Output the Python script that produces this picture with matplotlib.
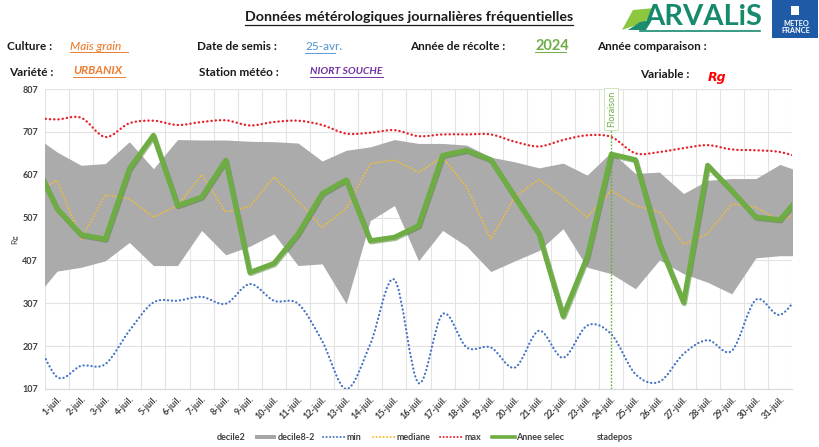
import matplotlib
matplotlib.use('Agg')
import matplotlib.pyplot as plt
from matplotlib.path import Path
from matplotlib.patches import PathPatch, Rectangle, Polygon
from matplotlib.lines import Line2D
import numpy as np

plt.rcParams['font.family'] = ['Lato', 'DejaVu Sans']

# ---- data (first value = 30-juin, last = 1-août, partly visible at the edges) ----
days = [f"{d}-juil." for d in range(1, 32)]
decile2 = [314, 382, 391, 406, 449, 395, 395, 477, 420, 440, 469, 395, 399, 306, 500, 535,
           406, 477, 440, 381, 406, 430, 481, 391, 376, 341, 408, 376, 356, 329, 413, 418, 418]
decile8 = [700, 660, 629, 633, 684, 621, 689, 688, 688, 685, 684, 681, 639, 664, 672, 689,
           680, 680, 676, 648, 637, 623, 634, 606, 660, 610, 613, 563, 594, 598, 598, 631, 611]
vmin = [245, 135, 161, 165, 243, 309, 313, 322, 306, 352, 313, 306, 219, 107, 212, 362,
        121, 282, 204, 204, 157, 243, 180, 255, 235, 142, 124, 189, 221, 196, 315, 280, 345]
mediane = [562, 594, 457, 560, 551, 508, 535, 607, 520, 533, 602, 545, 484, 528, 633, 641,
           613, 648, 578, 457, 555, 596, 555, 508, 570, 535, 520, 445, 469, 539, 531, 500, 524]
vmax = [740, 736, 740, 695, 727, 733, 723, 730, 734, 722, 730, 733, 723, 703, 705, 711,
        697, 701, 701, 701, 684, 673, 688, 699, 695, 657, 660, 669, 676, 666, 664, 660, 644]
selec = [644, 528, 467, 457, 621, 699, 535, 555, 641, 379, 400, 469, 563, 595, 453, 461,
         488, 652, 664, 642, 555, 469, 277, 415, 655, 642, 445, 309, 629, 570, 508, 502, 568]
yticks = [107, 207, 307, 407, 507, 607, 707, 807]
floraison_day = "24-juil."

xs = np.arange(-1, len(days) + 1)

W, H = 820, 447
fig = plt.figure(figsize=(W / 100, H / 100), dpi=100)
ax = fig.add_axes([45 / W, 1 - 389 / H, (792 - 45) / W, (389 - 89) / H])


def smooth_path(x, y):
    verts = [(x[0], y[0])]
    codes = [Path.MOVETO]
    n = len(x)
    for i in range(n - 1):
        p0 = i - 1 if i > 0 else i
        p3 = i + 2 if i + 2 < n else i + 1
        c1 = (x[i] + (x[i + 1] - x[p0]) / 6, y[i] + (y[i + 1] - y[p0]) / 6)
        c2 = (x[i + 1] - (x[p3] - x[i]) / 6, y[i + 1] - (y[p3] - y[i]) / 6)
        verts += [c1, c2, (x[i + 1], y[i + 1])]
        codes += [Path.CURVE4] * 3
    return Path(verts, codes)


dot = (0, (0.1, 1.7))
ax.fill_between(xs, decile2, decile8, color='#ABABAB', lw=0, zorder=2)
ax.add_patch(PathPatch(smooth_path(xs, vmin), fill=False, edgecolor='#4472C4', lw=1.6,
                       linestyle=dot, capstyle='round', zorder=3))
ax.plot(xs, mediane, color='#F5BE2E', lw=1.3, linestyle=dot, dash_capstyle='round', zorder=3)
ax.add_patch(PathPatch(smooth_path(xs, vmax), fill=False, edgecolor='#E8202A', lw=1.7,
                       linestyle=dot, capstyle='round', zorder=3))
ax.plot(xs, selec, color='#4E7F2E', lw=3.8, alpha=0.5, zorder=3.5, solid_joinstyle='round',
        transform=ax.transData + matplotlib.transforms.ScaledTranslation(0.6 / 72, -0.8 / 72,
                                                                         fig.dpi_scale_trans))
ax.plot(xs, selec, color='#6DAD43', lw=3.6, zorder=4, solid_joinstyle='round')

fx = days.index(floraison_day)
ax.axvline(fx, color='#5FB02E', lw=1.0, linestyle=(0, (1.2, 1.2)), zorder=5)
ax.text(fx, 803, 'Floraison', rotation=90, ha='center', va='top', fontsize=6.5,
        color='#70AD47', zorder=6,
        bbox=dict(boxstyle='square,pad=0.3', fc='white', ec='#C5E0B4', lw=0.6))

ax.set_xlim(-0.5, len(days) - 0.5)
ax.set_ylim(107, 807)
ax.set_yticks(yticks)
ax.set_yticklabels([str(v) for v in yticks], fontsize=6.5, fontweight='bold', color='#404040')
ax.set_xticks(range(len(days)))
ax.set_xticklabels(days, rotation=45, ha='right', rotation_mode='anchor', fontsize=6.5,
                   fontweight='bold', color='#404040')
ax.set_xticks(np.arange(-0.5, len(days), 1), minor=True)
ax.tick_params(axis='both', which='both', length=0, pad=4)
ax.tick_params(axis='y', pad=5)
ax.grid(True, axis='y', which='major', color='#E3E3E3', lw=0.8, zorder=0)
ax.grid(True, axis='x', which='minor', color='#E3E3E3', lw=0.8, zorder=0)
ax.set_axisbelow(True)
for s in ['top', 'right', 'left']:
    ax.spines[s].set_visible(False)
ax.spines['bottom'].set_color('#D9D9D9')
ax.set_ylabel('Rg', fontsize=6, color='#404040', labelpad=3)


def fp(x, y):
    return x / W, 1 - y / H


# ---- header ----
fig.text(*fp(409, 17), 'Données métérologiques journalières fréquentielles',
         ha='center', va='center', fontsize=10.3, fontweight='bold', color='#1a1a1a')
fig.add_artist(Line2D([245 / W, 573 / W], [1 - 25 / H, 1 - 25 / H], color='#1a1a1a', lw=0.9))

lab = dict(fontsize=8.5, fontweight='bold', color='#1a1a1a', va='center')
fig.text(*fp(7, 46), 'Culture :', **lab)
fig.text(*fp(9, 72), 'Variété :', **lab)
fig.text(*fp(197, 47), 'Date de semis :', **lab)
fig.text(*fp(199, 72), 'Station météo :', **lab)
fig.text(*fp(410, 47), 'Année de récolte :', **lab)
fig.text(*fp(597, 47), 'Année comparaison :', **lab)
fig.text(*fp(640, 75), 'Variable :', **lab)


def uval(x, y, s, color, size=8.5, style='italic', weight='normal', x2=None):
    tt = fig.text(*fp(x, y), s, fontsize=size, color=color, style=style, fontweight=weight,
                  va='center')
    if x2 is not None:
        fig.add_artist(Line2D([x / W, x2 / W], [1 - (y + 6) / H] * 2, color=color, lw=0.7))
    return tt


uval(70, 46, 'Maïs grain', '#ED7D31', weight='medium', x2=128)
uval(73, 71, 'URBANIX', '#ED7D31', weight='bold', x2=125)
uval(305, 47, '25-avr.', '#5B9BD5', style='normal', weight='medium', x2=335)
uval(310, 71, 'NIORT SOUCHE', '#7030A0', size=7.5, weight='bold', x2=383)
uval(535, 46, '2024', '#70AD47', size=10.5, style='normal', weight='bold', x2=566)
fig.text(*fp(708, 77), 'Rg', fontsize=9, color='#FF0000', fontweight='bold', style='italic',
         va='center', family=['DejaVu Sans'])

# ---- logos ----
fig.add_artist(Polygon([fp(622, 30), fp(633, 10), fp(655, 8), fp(645, 22)], closed=True,
                       fc='#8DC63F', ec='none'))
fig.add_artist(Polygon([fp(628, 30), fp(640, 22), fp(652, 20), fp(646, 30)], closed=True,
                       fc='#1E8C6E', ec='none'))
fig.text(*fp(703, 17), 'ARVALiS', ha='center', va='center', fontsize=21, fontweight='bold',
         color='#178A6E')
fig.add_artist(Line2D([640 / W, 760 / W], [1 - 31 / H, 1 - 31 / H], color='#178A6E', lw=1.2))
fig.add_artist(Rectangle(fp(772, 38), 46 / W, 38 / H, fc='#1F5AA6', ec='none'))
fig.add_artist(Rectangle(fp(791, 15), 8 / W, 9 / H, fc='white', ec='none'))
fig.text(*fp(796, 27), 'METEO\nFRANCE', ha='center', va='center', fontsize=5.3,
         fontweight='bold', color='white', linespacing=1.0)

# ---- legend ----
ly = 1 - 437 / H
leg = dict(fontsize=6.5, fontweight='bold', color='#404040', va='center')
fig.text(217 / W, ly, 'decile2', **leg)
fig.add_artist(Rectangle((255 / W, ly - 2 / H), 21 / W, 4 / H, fc='#A6A6A6', ec='none'))
fig.text(278 / W, ly, 'decile8-2', **leg)
fig.add_artist(Line2D([323 / W, 345 / W], [ly, ly], color='#4472C4', lw=1.4, linestyle=dot,
                      dash_capstyle='round'))
fig.text(347 / W, ly, 'min', **leg)
fig.add_artist(Line2D([373 / W, 395 / W], [ly, ly], color='#F5BE2E', lw=1.4, linestyle=dot,
                      dash_capstyle='round'))
fig.text(397 / W, ly, 'mediane', **leg)
fig.add_artist(Line2D([440 / W, 463 / W], [ly, ly], color='#E8202A', lw=1.4, linestyle=dot,
                      dash_capstyle='round'))
fig.text(465 / W, ly, 'max', **leg)
fig.add_artist(Line2D([492 / W, 515 / W], [ly, ly], color='#6DAD43', lw=2.6))
fig.text(516 / W, ly, 'Annee selec', **leg)
fig.text(597 / W, ly, 'stadepos', **leg)

fig.savefig('out.png', dpi=100, facecolor='white')
